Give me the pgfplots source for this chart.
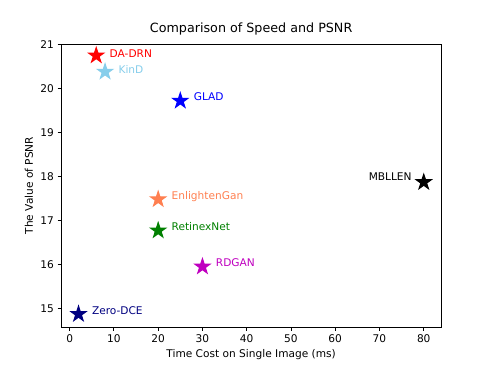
\documentclass[border=0pt]{standalone}
\usepackage{fontspec}
\setmainfont{DejaVu Sans}
\usepackage{pgfplots}
\pgfplotsset{compat=1.18}
\definecolor{skyblue}{RGB}{135,206,235}
\definecolor{coral}{RGB}{255,127,80}
\definecolor{mplgreen}{RGB}{0,128,0}
\definecolor{mplm}{RGB}{191,0,191}
\definecolor{navy}{RGB}{0,0,128}
\definecolor{mplblue}{RGB}{0,0,255}
\definecolor{mplred}{RGB}{255,0,0}
\pgfdeclareplotmark{fstar}{%
  \pgfpathmoveto{\pgfpointpolar{90}{\pgfplotmarksize}}%
  \pgfpathlineto{\pgfpointpolar{126}{0.381966\pgfplotmarksize}}%
  \pgfpathlineto{\pgfpointpolar{162}{\pgfplotmarksize}}%
  \pgfpathlineto{\pgfpointpolar{198}{0.381966\pgfplotmarksize}}%
  \pgfpathlineto{\pgfpointpolar{234}{\pgfplotmarksize}}%
  \pgfpathlineto{\pgfpointpolar{270}{0.381966\pgfplotmarksize}}%
  \pgfpathlineto{\pgfpointpolar{306}{\pgfplotmarksize}}%
  \pgfpathlineto{\pgfpointpolar{342}{0.381966\pgfplotmarksize}}%
  \pgfpathlineto{\pgfpointpolar{18}{\pgfplotmarksize}}%
  \pgfpathlineto{\pgfpointpolar{54}{0.381966\pgfplotmarksize}}%
  \pgfpathclose
  \pgfusepathqfillstroke
}
\newcommand{\lbl}{\fontsize{10}{12}\selectfont}
\begin{document}
\begin{tikzpicture}
\useasboundingbox (-0.8in,-0.528in) rectangle (5.6in,4.272in);
\begin{axis}[
  scale only axis, width=4.96in, height=3.696in,
  at={(0,0)}, anchor=south west,
  xmin=-1.9, xmax=83.9, ymin=14.575, ymax=21.01,
  xtick={0,10,...,80}, ytick={15,16,...,21},
  tick align=outside, xtick pos=bottom, ytick pos=left,
  major tick length=3.5pt,
  every tick/.style={black, line width=0.8pt},
  axis line style={line width=0.8pt},
  /pgf/number format/assume math mode=true,
  tick label style={font=\lbl},
  label style={font=\lbl},
  title style={font=\fontsize{12}{14}\selectfont, yshift=-1pt},
  title={Comparison of Speed and PSNR},
  xlabel={Time Cost on Single Image (ms)},
  ylabel={The Value of PSNR},
  mark size=7.5pt,
  clip=false,
]
\addplot[only marks, mark=fstar, color=mplred, line width=1pt] coordinates {(6,20.75)};
\addplot[only marks, mark=fstar, color=skyblue, line width=1pt] coordinates {(8,20.38)};
\addplot[only marks, mark=fstar, color=mplblue, line width=1pt] coordinates {(25,19.72)};
\addplot[only marks, mark=fstar, color=black, line width=1pt] coordinates {(80,17.87)};
\addplot[only marks, mark=fstar, color=coral, line width=1pt] coordinates {(20,17.48)};
\addplot[only marks, mark=fstar, color=mplgreen, line width=1pt] coordinates {(20,16.77)};
\addplot[only marks, mark=fstar, color=mplm, line width=1pt] coordinates {(30,15.95)};
\addplot[only marks, mark=fstar, color=navy, line width=1pt] coordinates {(2,14.87)};
\node[anchor=base west, inner sep=0pt, text=mplred, font=\lbl] at (axis cs:9,20.70) {DA-DRN};
\node[anchor=base west, inner sep=0pt, text=skyblue, font=\lbl] at (axis cs:11,20.34) {KinD};
\node[anchor=base west, inner sep=0pt, text=mplblue, font=\lbl] at (axis cs:28,19.72) {GLAD};
\node[anchor=base east, inner sep=0pt, text=black, font=\lbl] at (axis cs:77.3,17.91) {MBLLEN};
\node[anchor=base west, inner sep=0pt, text=coral, font=\lbl] at (axis cs:23,17.48) {EnlightenGan};
\node[anchor=base west, inner sep=0pt, text=mplgreen, font=\lbl] at (axis cs:23,16.77) {RetinexNet};
\node[anchor=base west, inner sep=0pt, text=mplm, font=\lbl] at (axis cs:33,15.95) {RDGAN};
\node[anchor=base west, inner sep=0pt, text=navy, font=\lbl] at (axis cs:5,14.85) {Zero-DCE};
\end{axis}
\end{tikzpicture}
\end{document}
